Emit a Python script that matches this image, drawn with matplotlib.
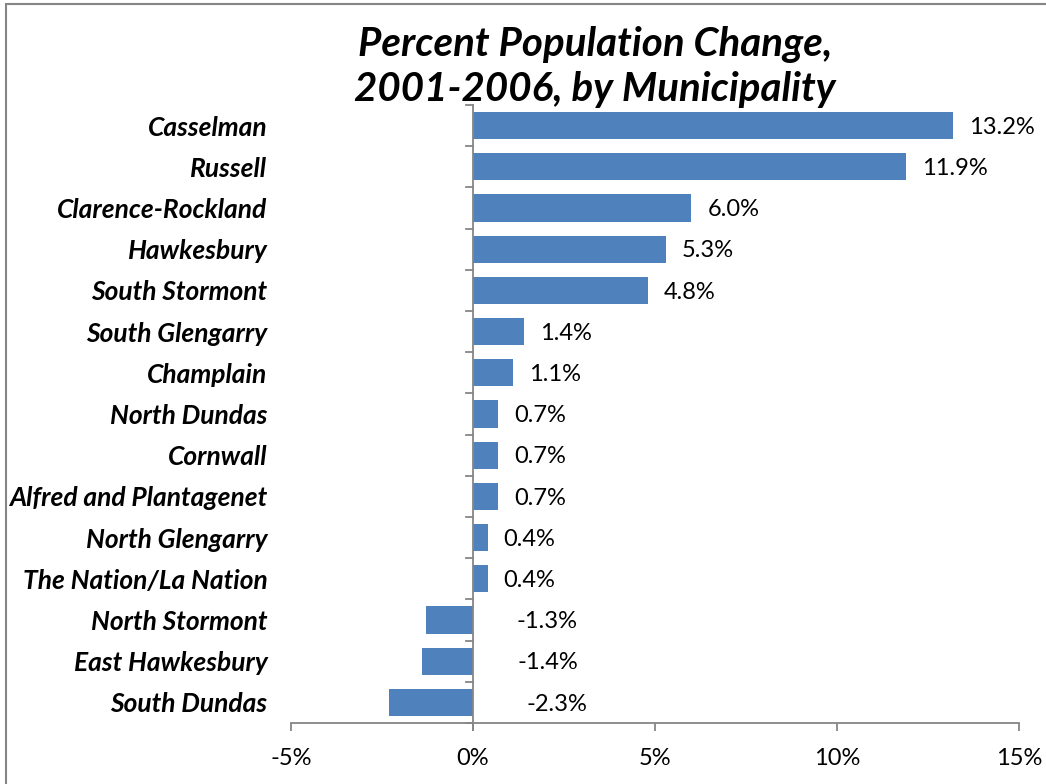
import matplotlib
matplotlib.use("Agg")
import matplotlib.pyplot as plt
from matplotlib.patches import Rectangle
from matplotlib.ticker import FuncFormatter

plt.rcParams["font.family"] = ["Lato", "DejaVu Sans"]

municipalities = ["Casselman", "Russell", "Clarence-Rockland", "Hawkesbury",
                  "South Stormont", "South Glengarry", "Champlain", "North Dundas",
                  "Cornwall", "Alfred and Plantagenet", "North Glengarry",
                  "The Nation/La Nation", "North Stormont", "East Hawkesbury",
                  "South Dundas"]
change_pct = [13.2, 11.9, 6.0, 5.3, 4.8, 1.4, 1.1, 0.7, 0.7, 0.7, 0.4, 0.4,
              -1.3, -1.4, -2.3]
x_ticks = [-5, 0, 5, 10, 15]

grey = "#868686"
blue = "#4F81BD"

fig = plt.figure(figsize=(10.46, 7.84), dpi=100)
ax = fig.add_axes([291 / 1046, 1 - 723 / 784, 728 / 1046, 618 / 784])

ypos = list(range(len(municipalities)))
ax.barh(ypos, change_pct, height=0.66, color=blue)
ax.set_ylim(len(municipalities) - 0.5, -0.5)
ax.set_xlim(-5, 15)

# data labels (negatives are set to the right of the zero line, as in the original)
for y, v in zip(ypos, change_pct):
    if v >= 0:
        ax.annotate(f"{v:.1f}%", (v, y + 0.04), xytext=(11.5, 0), textcoords="offset points",
                    ha="left", va="center", fontsize=17)
    else:
        ax.text(0.82 - 0.28 * v, y + 0.04, f"{v:.1f}%", ha="left", va="center", fontsize=17)

ax.set_yticks(ypos)
ax.set_yticklabels(municipalities, fontsize=19, fontweight="bold", fontstyle="italic")
ax.tick_params(axis="y", length=0, pad=17)

ax.set_xticks(x_ticks)
ax.xaxis.set_major_formatter(FuncFormatter(lambda v, p: f"{v:.0f}%"))
ax.tick_params(axis="x", direction="out", length=6, width=1.3, color=grey,
               labelsize=17, pad=12)

for side in ["left", "right", "top"]:
    ax.spines[side].set_visible(False)
ax.spines["bottom"].set_color(grey)
ax.spines["bottom"].set_linewidth(1.3)

# category axis at zero with tick marks between categories
ax.axvline(0, color=grey, lw=1.3, ymin=-0.012, ymax=1, clip_on=False)
for b in range(len(municipalities) + 1):
    ax.plot([-0.2, 0], [b - 0.5, b - 0.5], color=grey, lw=1.3, clip_on=False)

fig.text(595 / 1046, 1 - 67 / 784, "Percent Population Change,\n2001-2006, by Municipality",
         ha="center", va="center", fontsize=29, fontweight="bold", fontstyle="italic",
         linespacing=1.25)

# chart-area border
fig.patches.append(Rectangle((5.5 / 1046, -0.1), 1.2, 1.1 - 4.5 / 784,
                             transform=fig.transFigure, fill=False,
                             edgecolor=grey, lw=1.5))

fig.savefig("out.png", dpi=100)
